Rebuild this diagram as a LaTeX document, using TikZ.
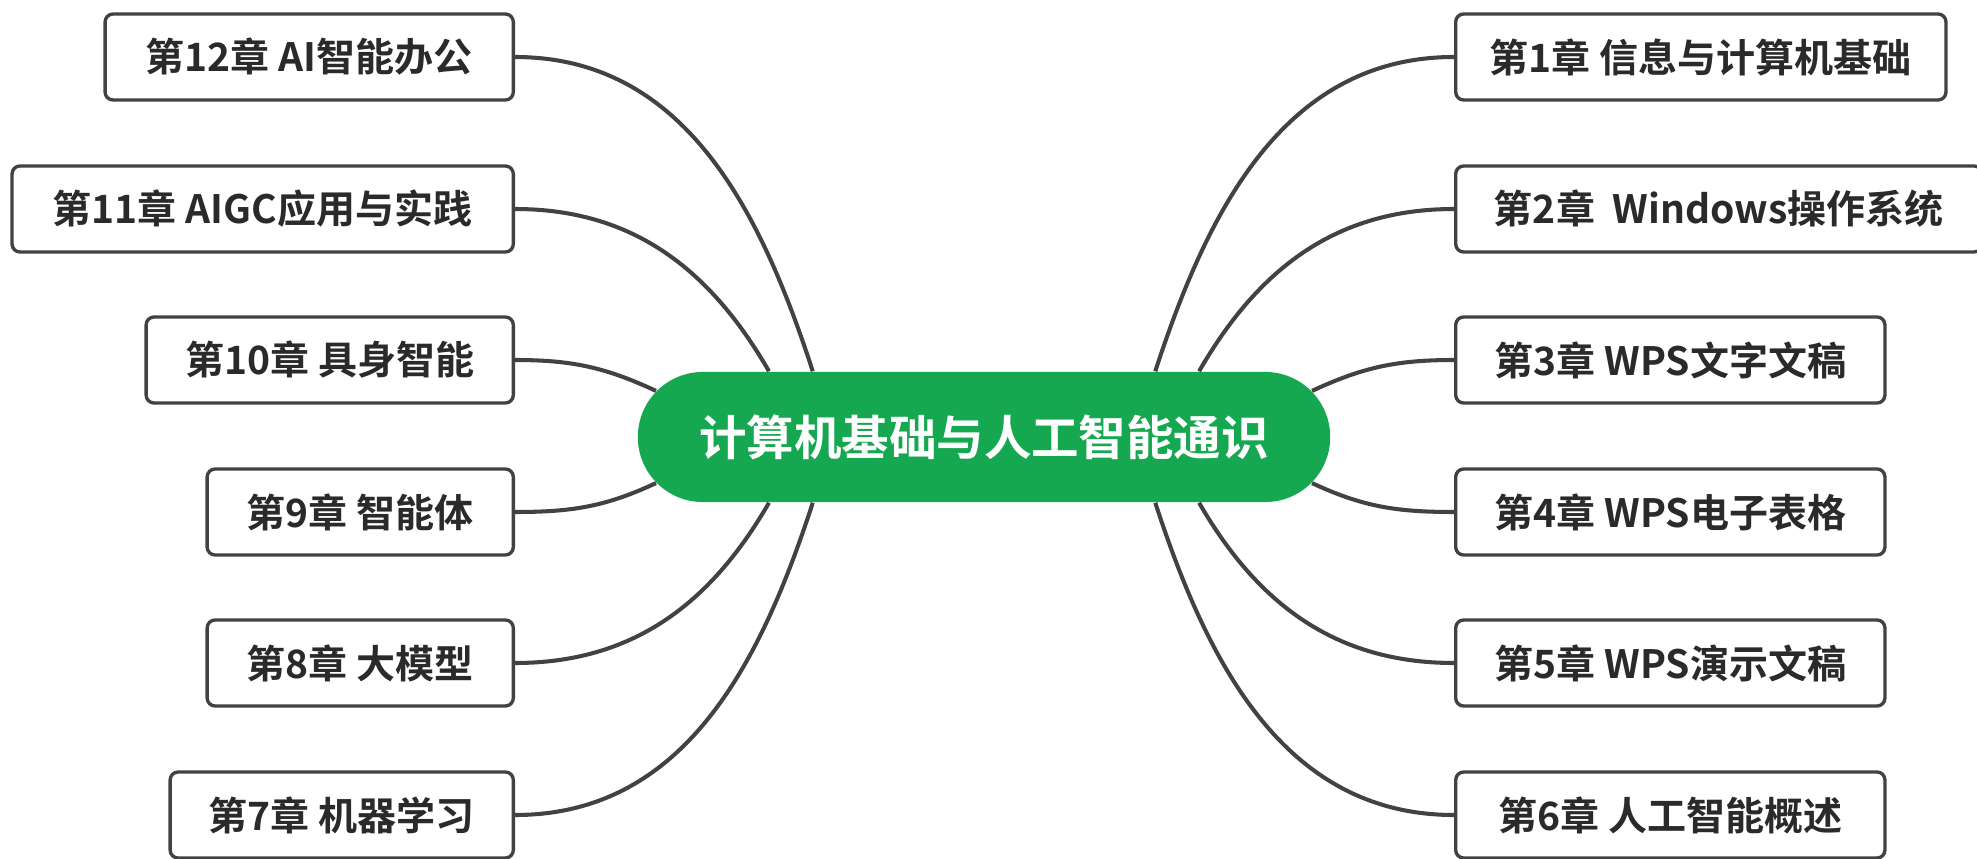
\documentclass[tikz,border=0pt]{standalone}
\usepackage{fontspec}
\setmainfont{Noto Sans CJK SC}[BoldFont=* Bold]
\usepackage{tikz}
\usetikzlibrary{shapes.misc}
\definecolor{hubgreen}{RGB}{22,168,80}
\definecolor{inkgray}{HTML}{2A2A2A}
\definecolor{linegray}{HTML}{424242}
\tikzset{
	hubbox/.style={
			rounded rectangle, fill=hubgreen, text=white,
			inner xsep=0pt, minimum width=6.92cm, minimum height=1.30cm,
			font=\fontsize{13.5pt}{16pt}\selectfont\bfseries,
		},
	chapbox/.style={
			draw=linegray, line width=0.95pt, rounded corners=0.08cm, fill=white,
			text=inkgray, inner xsep=0pt, minimum height=0.86cm,
			font=\fontsize{11.1pt}{13pt}\selectfont\bfseries,
		},
	branch/.style={draw=linegray, line width=1.15pt},
}

\begin{document}
\begin{tikzpicture}[x=0.01cm, y=0.01cm]
		\useasboundingbox (0,0) rectangle (1977,-858);

		\node[hubbox] (hub) at (984,-437) {计算机基础与人工智能通识};

		\node[chapbox, anchor=east, minimum width=4.08cm] (c12) at (515,-57) {第12章 AI智能办公};
		\node[chapbox, anchor=east, minimum width=5.01cm] (c11) at (515,-209) {第11章 AIGC应用与实践};
		\node[chapbox, anchor=east, minimum width=3.67cm] (c10) at (515,-360) {第10章 具身智能};
		\node[chapbox, anchor=east, minimum width=3.06cm] (c9) at (515,-512) {第9章 智能体};
		\node[chapbox, anchor=east, minimum width=3.06cm] (c8) at (515,-663) {第8章 大模型};
		\node[chapbox, anchor=east, minimum width=3.43cm] (c7) at (515,-815) {第7章 机器学习};

		\node[chapbox, anchor=west, minimum width=4.90cm] (c1) at (1454,-57) {第1章 信息与计算机基础};
		\node[chapbox, anchor=west, minimum width=5.26cm] (c2) at (1454,-209) {第2章\ \ Windows操作系统};
		\node[chapbox, anchor=west, minimum width=4.29cm] (c3) at (1454,-360) {第3章 WPS文字文稿};
		\node[chapbox, anchor=west, minimum width=4.29cm] (c4) at (1454,-512) {第4章 WPS电子表格};
		\node[chapbox, anchor=west, minimum width=4.29cm] (c5) at (1454,-663) {第5章 WPS演示文稿};
		\node[chapbox, anchor=west, minimum width=4.29cm] (c6) at (1454,-815) {第6章 人工智能概述};

		\draw[branch] (hub.159) to[out=108, in=0] (c12.east);
		\draw[branch] (hub.163) to[out=120, in=0] (c11.east);
		\draw[branch] (hub.172) to[out=155, in=0] (c10.east);
		\draw[branch] (hub.188) to[out=205, in=0] (c9.east);
		\draw[branch] (hub.197) to[out=240, in=0] (c8.east);
		\draw[branch] (hub.201) to[out=252, in=0] (c7.east);

		\draw[branch] (hub.21) to[out=72, in=180] (c1.west);
		\draw[branch] (hub.17) to[out=60, in=180] (c2.west);
		\draw[branch] (hub.8) to[out=25, in=180] (c3.west);
		\draw[branch] (hub.352) to[out=-25, in=180] (c4.west);
		\draw[branch] (hub.343) to[out=-60, in=180] (c5.west);
		\draw[branch] (hub.339) to[out=-72, in=180] (c6.west);
	\end{tikzpicture}
\end{document}
